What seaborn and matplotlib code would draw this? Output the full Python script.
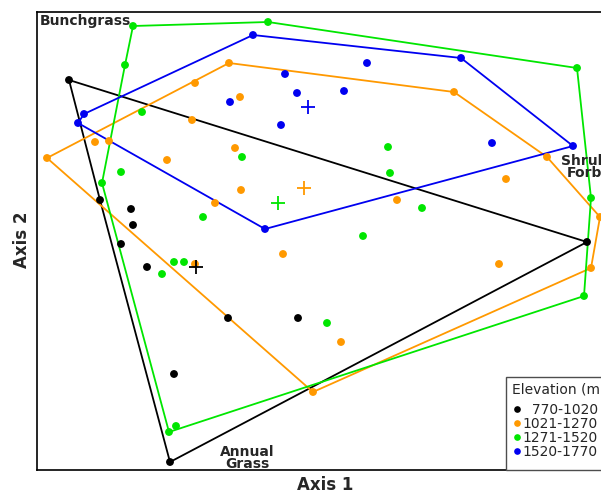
import numpy as np
import pandas as pd
import matplotlib
matplotlib.use("Agg")
import matplotlib.pyplot as plt
from matplotlib.patches import Rectangle
import seaborn as sns

# Elevation classes and colours
groups = ["770-1020", "1021-1270", "1271-1520", "1520-1770"]
legend_labels = ["\u2007770-1020", "1021-1270", "1271-1520", "1520-1770"]
colors = ["#000000", "#FF9900", "#00E600", "#0000F0"]

# Ordination scores (Axis 1, Axis 2)
ax1_770 = [32, 550, 133, 63, 94, 96, 84, 110, 191, 261, 137]
ax2_770 = [390, 228, 8, 270, 261, 245, 226, 203, 152, 152, 96]

ax1_1021 = [10, 192, 417, 510, 563, 554, 276, 158, 203, 155, 58, 72,
            198, 130, 204, 178, 246, 158, 462, 304, 360, 469]
ax2_1021 = [312, 407, 378, 313, 253, 202, 78, 387, 373, 350, 328, 329,
            322, 310, 280, 267, 216, 206, 206, 128, 270, 291]

ax1_1271 = [96, 231, 540, 554, 547, 139, 132, 65, 88, 105, 205, 84,
            166, 137, 147, 125, 290, 351, 353, 385, 326]
ax2_1271 = [444, 448, 402, 272, 174, 44, 38, 287, 405, 358, 313, 298,
            253, 208, 208, 196, 147, 323, 297, 262, 234]

ax1_1520 = [47, 216, 424, 536, 228, 41, 248, 260, 193, 244, 330, 307, 455]
ax2_1520 = [356, 435, 412, 324, 241, 347, 396, 377, 368, 345, 407, 379, 327]

xs = [ax1_770, ax1_1021, ax1_1271, ax1_1520]
ys = [ax2_770, ax2_1021, ax2_1271, ax2_1520]

df = pd.concat([
    pd.DataFrame({"Axis 1": x, "Axis 2": y, "Elevation": lab})
    for x, y, lab in zip(xs, ys, legend_labels)
], ignore_index=True)


def convex_hull(px, py):
    pts = sorted(set(zip(px, py)))

    def cross(o, a, b):
        return (a[0] - o[0]) * (b[1] - o[1]) - (a[1] - o[1]) * (b[0] - o[0])

    lower, upper = [], []
    for p in pts:
        while len(lower) >= 2 and cross(lower[-2], lower[-1], p) <= 0:
            lower.pop()
        lower.append(p)
    for p in reversed(pts):
        while len(upper) >= 2 and cross(upper[-2], upper[-1], p) <= 0:
            upper.pop()
        upper.append(p)
    hull = lower[:-1] + upper[:-1]
    hull.append(hull[0])
    return [h[0] for h in hull], [h[1] for h in hull]


sns.set_style("white")
plt.rcParams["font.family"] = ["DejaVu Sans"]

fig = plt.figure(figsize=(6.01, 4.93), dpi=100)
ax = fig.add_axes([37 / 601, 23 / 493, 588 / 601, 458 / 493])

for x, y, c in zip(xs, ys, colors):
    hx, hy = convex_hull(x, y)
    ax.plot(hx, hy, color=c, lw=1.3, zorder=2)

sns.scatterplot(data=df, x="Axis 1", y="Axis 2", hue="Elevation",
                palette=dict(zip(legend_labels, colors)), s=32,
                edgecolor="none", linewidth=0, ax=ax, zorder=3)

for x, y, c in zip(xs, ys, colors):
    ax.scatter([np.mean(x)], [np.mean(y)], marker="+", s=110, color=c,
               linewidths=1.3, zorder=4)

ax.set_xlim(0, 588)
ax.set_ylim(0, 458)
ax.set_xticks([])
ax.set_yticks([])
for sp in ax.spines.values():
    sp.set_color("black")
    sp.set_linewidth(1.2)

ax.set_xlabel("Axis 1", fontsize=12, fontweight="bold")
ax.set_ylabel("Axis 2", fontsize=12, fontweight="bold")
ax.xaxis.set_label_coords(0.49, -0.013)
ax.yaxis.set_label_coords(-0.010, 0.502)

ax.text(3, 456, "Bunchgrass", fontsize=10, fontweight="bold",
        ha="left", va="top")
ax.text(547, 303, "Shrub\nForb", fontsize=10, fontweight="bold",
        ha="center", va="center", linespacing=0.85)
ax.text(210, 12, "Annual\nGrass", fontsize=10, fontweight="bold",
        ha="center", va="center", linespacing=0.85)

# legend box reaching down to the bottom spine
leg_x, leg_top = 0.7976, 0.2031
ax.add_patch(Rectangle((leg_x, 0), 0.5, leg_top, transform=ax.transAxes,
                       facecolor="white", edgecolor="0.3", lw=1.0,
                       clip_on=False, zorder=4.8))

handles, labels = ax.get_legend_handles_labels()
leg = ax.legend(handles, labels, title="Elevation (m)", loc="upper left",
                bbox_to_anchor=(leg_x, leg_top), borderaxespad=0,
                frameon=False, fontsize=10, title_fontsize=10,
                alignment="left", handletextpad=0.05, labelspacing=0.0,
                borderpad=0.4, handlelength=0.75, markerscale=0.85)
leg._legend_box.sep = 4.5
leg.set_zorder(5)

fig.savefig("out.png", dpi=100)
